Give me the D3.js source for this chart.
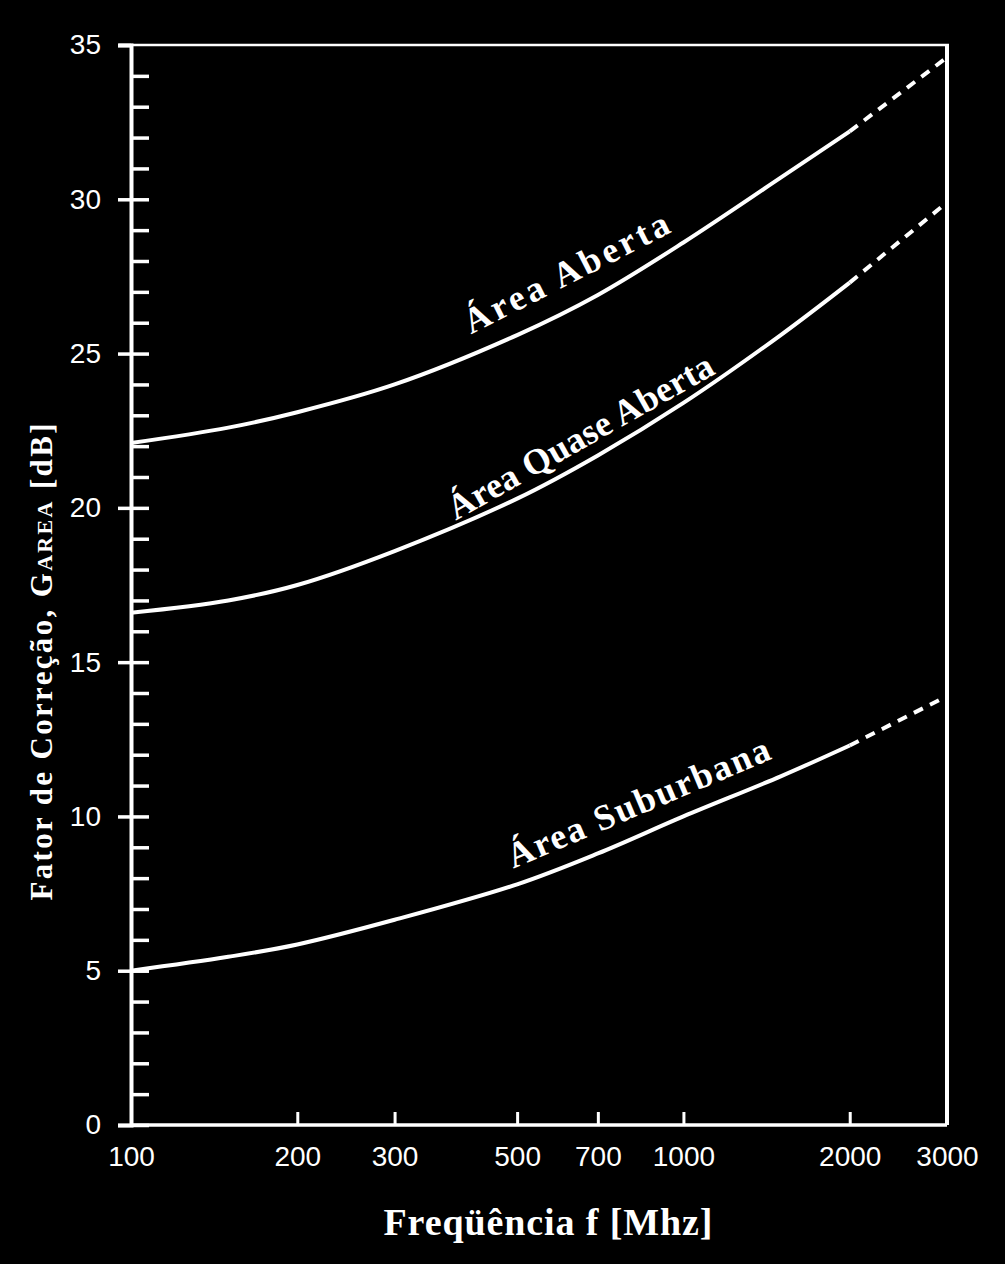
<!DOCTYPE html>
<html><head><meta charset="utf-8">
<script src="https://cdn.jsdelivr.net/npm/d3@7"></script>
<style>
html,body{margin:0;padding:0;background:#000;}
svg{display:block;}
</style></head>
<body>
<script>
// ---- data ----
const freqs = [100, 150, 200, 300, 500, 700, 1000, 1500, 2000];
const freqsExt = [2000, 3000];
const openArea = [22.1, 22.6, 23.1, 24.0, 25.6, 26.9, 28.6, 30.7, 32.2];
const openAreaExt = [32.2, 34.6];
const quasiOpen = [16.6, 17.0, 17.5, 18.6, 20.3, 21.7, 23.4, 25.6, 27.3];
const quasiOpenExt = [27.3, 29.9];
const suburban = [5.0, 5.45, 5.85, 6.65, 7.8, 8.8, 10.0, 11.3, 12.3];
const suburbanExt = [12.3, 13.9];
const xTickValues = [100, 200, 300, 500, 700, 1000, 2000, 3000];
const yMajorTicks = [0, 5, 10, 15, 20, 25, 30, 35];
const yMinorTicks = d3.range(0, 36, 1);
const seriesLabels = ["Área Aberta", "Área Quase Aberta", "Área Suburbana"];
const xTitle = "Freqüência f [Mhz]";

const W = 1005, H = 1264;
const svg = d3.select("body").append("svg").attr("width", W).attr("height", H)
  .style("background", "#000");

const x = d3.scaleLog().domain([100, 3000]).range([131, 947]);
const y = d3.scaleLinear().domain([0, 35]).range([1125, 45]);

const white = "#fff";

// frame
svg.append("line").attr("x1", 119).attr("x2", 949).attr("y1", y(35)).attr("y2", y(35))
  .attr("stroke", white).attr("stroke-width", 2.5);
svg.append("line").attr("x1", x(3000)).attr("x2", x(3000)).attr("y1", y(35)).attr("y2", y(0))
  .attr("stroke", white).attr("stroke-width", 4);
svg.append("line").attr("x1", x(100)).attr("x2", x(3000)).attr("y1", y(0)).attr("y2", y(0))
  .attr("stroke", white).attr("stroke-width", 3.5);

// y axis: major labels + outward ticks
const gy = svg.append("g").attr("transform", `translate(${x(100)},0)`)
  .call(d3.axisLeft(y).tickValues(yMajorTicks).tickSize(13).tickPadding(17)
    .tickFormat(d3.format("d")));
gy.select(".domain").attr("stroke", white).attr("stroke-width", 4);
gy.selectAll(".tick line").attr("stroke", white).attr("stroke-width", 3.5);
gy.selectAll(".tick text").attr("fill", white)
  .style("font-family", "'Liberation Sans', Arial, sans-serif").style("font-size", "28px");

// y axis: inward ticks (all units)
const gy2 = svg.append("g").attr("transform", `translate(${x(100)},0)`)
  .call(d3.axisLeft(y).tickValues(yMinorTicks.filter(d => d < 35)).tickSize(-18).tickFormat(""));
gy2.select(".domain").remove();
gy2.selectAll(".tick line").attr("stroke", white).attr("stroke-width", 3.5);

// x axis
const gx = svg.append("g").attr("transform", `translate(0,${y(0)})`)
  .call(d3.axisBottom(x).tickValues(xTickValues).tickSize(-13).tickPadding(21)
    .tickFormat(d3.format("d")));
gx.select(".domain").remove();
gx.selectAll(".tick line").attr("stroke", white).attr("stroke-width", 3)
  .attr("display", d => (d === 100 || d === 3000) ? "none" : null);
gx.selectAll(".tick text").attr("fill", white)
  .style("font-family", "'Liberation Sans', Arial, sans-serif").style("font-size", "28px");

// curves
const line = d3.line().x(d => x(d[0])).y(d => y(d[1])).curve(d3.curveCatmullRom.alpha(0.5));
const solid = [openArea, quasiOpen, suburban];
const ext = [openAreaExt, quasiOpenExt, suburbanExt];
solid.forEach((s, i) => {
  svg.append("path").datum(freqs.map((f, j) => [f, s[j]]))
    .attr("d", line).attr("fill", "none").attr("stroke", white).attr("stroke-width", 4);
  svg.append("path").datum(freqsExt.map((f, j) => [f, ext[i][j]]))
    .attr("d", line).attr("fill", "none").attr("stroke", white).attr("stroke-width", 4)
    .attr("stroke-dasharray", "10,8");
});

// curve labels
const labelPos = [
  {cx: 566, cy: 272, a: -27, len: 226},
  {cx: 580, cy: 436, a: -29.5, len: 300},
  {cx: 638, cy: 802, a: -23, len: 282}
];
seriesLabels.forEach((t, i) => {
  const p = labelPos[i];
  svg.append("text").attr("transform", `translate(${p.cx},${p.cy}) rotate(${p.a})`)
    .attr("text-anchor", "middle").attr("dy", "0.35em")
    .attr("textLength", p.len).attr("lengthAdjust", "spacing")
    .attr("fill", white).style("font-family", "'Liberation Serif', 'Times New Roman', serif")
    .style("font-weight", "bold").style("font-size", "36px").text(t);
});

// y title
const yt = svg.append("text").attr("transform", "translate(52,662) rotate(-90)")
  .attr("text-anchor", "middle").attr("textLength", 477).attr("lengthAdjust", "spacing")
  .attr("fill", white).style("font-family", "'Liberation Serif', 'Times New Roman', serif")
  .style("font-weight", "bold").style("font-size", "31px");
yt.append("tspan").text("Fator de Correção, G");
yt.append("tspan").style("font-size", "22px").text("AREA");
yt.append("tspan").text(" [dB]");

// x title
svg.append("text").attr("x", 548).attr("y", 1235).attr("text-anchor", "middle")
  .attr("textLength", 329).attr("lengthAdjust", "spacing")
  .attr("fill", white).style("font-family", "'Liberation Serif', 'Times New Roman', serif")
  .style("font-weight", "bold").style("font-size", "38px").text(xTitle);
</script>
</body></html>
